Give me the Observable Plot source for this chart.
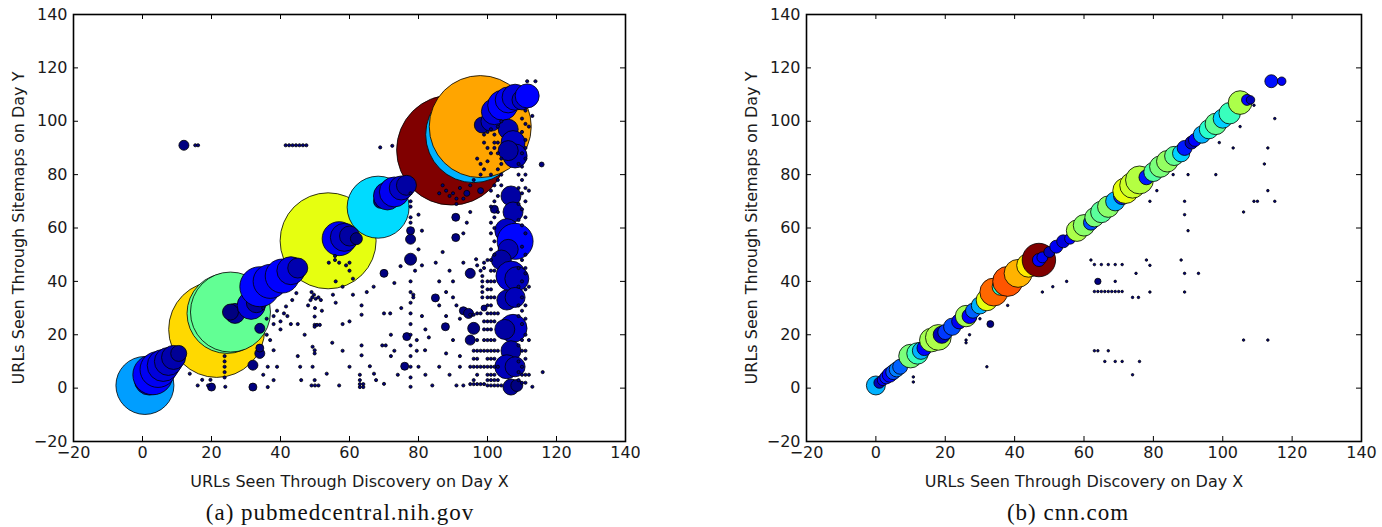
<!DOCTYPE html>
<html><head><meta charset="utf-8">
<script src="https://cdn.jsdelivr.net/npm/d3@7"></script>
<script src="https://cdn.jsdelivr.net/npm/@observablehq/plot@0.6"></script>
<style>
body{margin:0;background:#fff;}
#wrap{position:relative;width:1382px;height:527px;overflow:hidden;}
.panel{position:absolute;top:0;}
.cap{position:absolute;top:500px;font-family:"Liberation Serif",serif;font-size:23px;color:#111;white-space:nowrap;transform:translateX(-50%);letter-spacing:1px;}
</style></head>
<body><div id="wrap"></div>
<script>
// ---------- data ----------
const xTicks = [-20, 0, 20, 40, 60, 80, 100, 120, 140];
const yTicks = [-20, 0, 20, 40, 60, 80, 100, 120, 140];
const xLabel = "URLs Seen Through Discovery on Day X";
const yLabel = "URLs Seen Through Sitemaps on Day Y";
const captions = ["(a) pubmedcentral.nih.gov", "(b) cnn.com"];

// pubmedcentral: [x, y, count, colorValue] in drawing order
const pubmedBubbles = [
  [0.7, 1, 841, 0.28], [21.5, 22, 2304, 0.68], [24.5, 28, 1600, 0.47], [25.5, 28.5, 1600, 0.47],
  [53.8, 55.2, 2304, 0.63], [68.3, 67.8, 961, 0.34], [89.6, 89.2, 3025, 1.0],
  [96, 95, 2304, 0.3], [97.9, 98, 2601, 0.735]
];
const pubmedMedium = [
  [2, 3, 225, 0.05], [3, 5, 400, 0.12], [4.5, 7, 324, 0.1], [6, 8.5, 256, 0.08], [7.5, 10, 196, 0.06],
  [9, 11.5, 144, 0.04], [10.5, 13, 64, 0.02], [26.8, 28, 100, 0.02], [25.5, 28.5, 64, 0.0],
  [31.5, 31, 196, 0.08], [33, 32, 100, 0.02], [34, 38, 400, 0.13], [37, 40, 289, 0.1], [40.5, 42, 289, 0.12],
  [43, 44, 196, 0.08], [45, 45, 100, 0.04], [57, 56, 289, 0.1], [58.5, 56.5, 196, 0.06], [60, 57, 100, 0.03],
  [62, 56, 36, 0.0], [69, 70, 49, 0.0], [71, 72, 196, 0.07], [73, 73.5, 225, 0.1], [75, 75, 144, 0.06],
  [76.5, 76, 100, 0.03], [98.5, 98.6, 64, 0.02], [101, 100, 100, 0.05], [102, 103.6, 169, 0.08],
  [104.4, 106, 225, 0.12], [106, 108, 169, 0.1], [108, 109, 169, 0.08], [110, 108, 100, 0.06],
  [111.5, 109.5, 144, 0.12], [106, 97, 100, 0.04], [107.4, 92, 144, 0.06], [108, 87, 144, 0.05],
  [106, 89, 100, 0.03], [106.8, 72, 100, 0.03], [107.4, 66, 100, 0.04], [105.6, 59, 144, 0.06],
  [108, 55, 324, 0.13], [106, 52, 100, 0.05], [104, 48, 100, 0.03], [106.8, 42, 225, 0.07],
  [108.5, 41, 144, 0.05], [105.6, 33, 100, 0.04], [108, 34, 100, 0.05], [107.4, 22.4, 196, 0.06],
  [105, 22, 100, 0.03], [106.8, 14, 100, 0.03], [105.6, 8, 144, 0.05], [108, 8, 100, 0.04],
  [106.8, 0.4, 64, 0.02], [108.5, 1, 36, 0.0],
  [12, 91, 25, 0], [32, 0.4, 16, 0], [20, 0.4, 16, 0], [32, 8.6, 25, 0], [34, 13, 25, 0], [34, 22.4, 25, 0],
  [34, 15, 16, 0], [77.7, 48.3, 36, 0], [77.7, 55.8, 25, 0], [77.7, 59, 16, 0], [70, 43, 16, 0],
  [76.6, 19.3, 16, 0], [76, 8.2, 16, 0], [87.8, 23, 16, 0], [90.8, 56.4, 16, 0], [90.8, 64, 16, 0],
  [95, 43, 25, 0], [95, 18, 25, 0], [96, 22.4, 36, 0], [84.9, 33.8, 16, 0], [93, 29, 16, 0],
  [94.5, 28, 25, 0], [115.7, 83.8, 6, 0], [99, 30, 9, 0], [102, 67, 16, 0], [98, 74, 9, 0], [94, 73, 9, 0]
];
const pubmedDots = [
  [15.3,91],[16.1,91],[41.5,91],[42.5,91],[43.5,91],[44.5,91],[45.5,91],[46.5,91],[47.5,91],[68.9,90.2],[72.4,90.8],[111.5,115],[113.9,115],
  [13.7,5.4],[17.3,3.1],[19.7,3.1],[16,1],[19,1],[24,0.5],[23.8,6],[23.8,8],[23.8,10],[23.8,12],[23.8,4],[35,5],[36.3,8],[38,14.2],[38,3],[36.3,0.4],[39,8],[37,18],[36,20],[38,24],[40,22],[40,25],[41,28],[39,29],[41.6,30.6],[43.4,33],[44.6,35.6],[42,27],[38,27],[36,26],[35,30],[43,24],[45,24],
  [48.7,33],[49.2,34],[49.7,35],[50.2,33.5],[51,34],[51.7,33],[49,36],[48,31],[50,30],[49.9,26.8],[49.9,23.7],[49.9,23],[50.6,23.7],[51.4,23.7],[49.3,15.5],[49.9,14.2],[49.9,13],[45.7,8],[49.3,8],[49.9,3],[53.4,5.4],[47,20],[45,12],[46,3],[49,1],[50,1],[51,1],[55.2,35],[52,29],[55.8,48],[55.8,49.5],[54,47],[57,47],[59,46],[60,47],[60,44],[56,40],[58,38],[61,41],[63.5,31],[63.5,27.5],[63.5,16],[63.5,12.3],[63,5],[63,3],[63,1.5],[64,1.5],[63,0.4],[64,0.4],[65.9,8.2],[67.1,5.4],[67.7,3],[60,8],[57,1],[58,14],[60,25],[58,24],[55,17],[56,32],[61,35],[65,36],[67,38],
  [70,28],[71.8,28],[69.5,16],[70.5,16],[70,1.6],[73,39.4],[74.8,45.7],[72,20],[73,14],[74,5],[72,12],[75,30],[77.7,0.5],[77.7,4],[77.7,8],[77.7,12],[77.7,16],[77.7,20],[77.7,24],[77.7,28],[77.7,32],[77.7,36],[77.7,40],[77.7,62],[77.7,64],[77.7,68],[77.7,70],[77.7,73],[78.5,34],[78.5,35],[79.5,18],[79.5,14],[79,44],[81,46],[80,52],[81,59],[80,65],[81,27],[82,22],[83,19],[81.9,14.2],[80,8],[84,1],[82,5],
  [86,31],[88,27],[85,47],[87,51],[89,44],[90,40],[86,40],[88,36],[91,31],[92,26],[90,18],[88,13],[86,8],[89,5],[91,1],[93,1],[92,8],[92,12],[90,34],[93,47],[93,58],[94,62],[95,66],[91,69],[93,71],[89,72],[96.7,48.3],[97,46],[98,44],[95,27.5],[96,27.5],[97,28],[98,28],[98.5,34],[98.5,36],[98.5,38],[98.5,40],[98.5,42],[99,45],[99,47],[97,5],[96,3],[95,1.5],[96,1.5],[97,1.5],[98,1.5],[99,1.5],[95,8],[96,8],[97,8],[98,8],[99,8],[96,11],[97,11],[98,14],[99,14],[97,14],[99,18],[99,22],[99,25],[96,14],[97,18],
  [100,1],[101,1],[102,1],[103,1],[104,1],[100,3],[101,3],[102,3],[103,3],[100,5],[101,5],[102,5],[100,8],[101,8],[102,8],[103,8],[100,11],[101,11],[102,11],[100,14],[101,14],[102,14],[103,14],[100,18],[101,18],[102,18],[100,22],[101,22],[100,25],[101,25],[102,25],[100,28],[101,28],[102,28],[103,28],[100,31],[101,31],[100,34],[101,34],[102,34],[100,37],[101,37],[100,40],[101,40],[102,40],[101,44],[102,44],[100,48],[101,48],[102,50],[101,52],[102,55],[101,58],[102,60],[101,62],[102,64],[103,66],[101,68],[102,70],[103,72],[101,74],[102,76],[103,78],[104,76],[104,80],[103,82],[104,84],[104,86],[103,88],[102,90],[103,92],[102,95],[101,97],[103,98],[104,100],
  [110,2],[111,2],[110,5],[111,5],[110,8],[111,11],[110,14],[111,14],[110,18],[111,20],[110,24],[111,26],[110,29],[111,31],[110,34],[111,37],[110,40],[111,43],[111,45],[110,48],[111,50],[110,53],[111,58],[110,61],[111,64],[110,67],[111,70],[110,73],[111,75],[110,78],[111,80],[110,83],[111,86],[110,88],[111,90],[111,93],[110,96],[111,99],[110,101],[111,104],[113,0.5],[112,5],[116,6],[109,3],[109,6],[109,10],[109,16],[109,27],[109,31],[109,38],[109,45],[109,63],[109,69],[109,75],[109,80],[109,84],[112,18],[112,38],[112,74],[113,102],[112,98],
  [99,92],[100,90],[101,88],[99,95],[100,96],[102,92],[97,86],[98,84],[99,82],[100,85],[101,80],[98,80],[96,78],[95,76],[92,75],[90,73],[88,74],[87,76],[86,73],[91,71]
];

// cnn.com: [x, y, count, colorValue]
const cnnChain = [
  [0,1,90,0.3],[1,2,30,0.05],[2,3,30,0.1],[3,4,42,0.15],[4,5,56,0.12],[5,6,56,0.2],[6,7,56,0.25],[7,8,56,0.22],
  [10,12,140,0.5],[12,13,115,0.42],[13,14,74,0.3],[14,15,56,0.12],[16,18,140,0.55],[18,19,165,0.56],[19,20,74,0.05],
  [20,21,56,0.18],[22,23,74,0.2],[24,25,56,0.1],[26,27,115,0.55],[27,27,56,0.12],[28,29,56,0.22],[30,31,74,0.3],
  [32,33,115,0.63],[34,36,195,0.8],[36,38,74,0.4],[38,40,225,0.82],[41,43,195,0.72],[44,46,140,0.66],[47,48,280,1.0],
  [47,48,42,0.12],[48,49,30,0.1],[50,51,30,0.05],[52,53,42,0.1],[54,55,42,0.08],[56,56,30,0.12],[58,59,115,0.56],
  [60,61,115,0.52],[62,62,56,0.2],[63,64,92,0.5],[65,66,115,0.46],[67,68,115,0.52],[69,70,92,0.3],[71,72,74,0.15],
  [72,74,165,0.63],[74,76,165,0.6],[76,78,195,0.57],[78,79,56,0.15],[80,81,92,0.45],[82,83,115,0.5],[84,85,115,0.53],
  [86,87,92,0.47],[88,88,74,0.33],[89,90,56,0.15],[91,92,42,0.05],[92,93,42,0.12],[94,95,74,0.3],[96,97,92,0.4],
  [98,99,115,0.47],[100,101,92,0.33],[102,103,115,0.42],[105,107,140,0.56],[107,108,30,0.12],[108,108,18,0.05],
  [114,115,42,0.14],[117,115,18,0.1]
];
const cnnDots = [
  [10.8,4.2],[10.8,2.3],[26,18],[26,17],[27,20],[32,8],[30,26],[38,31],[48,36],[51,38],[55,40],[62,48],
  [63,46.3],[65,46.3],[67,46.3],[69,46.3],[71,46.3],[69,40],
  [63,36.2],[64,36.2],[65,36.2],[66,36.2],[67,36.2],[68,36.2],[69,36.2],[70,36.2],[71,36.2],
  [74,34],[75.7,34],[75,43],[78,48],[79,46],[79,36],[79,70],[81,74],[85.7,80],[90,80],[98,80],
  [88,48],[89,43],[93,43],[89,70],[89,65],[90,59],[89,36],[99,92],[103,90],[105,98],[109,106],
  [115,101],[113,90],[112,84],[113,74],[109,70],[110,70],[115,70],[106,66],
  [63,14],[64,14],[67,14],[66,10],[69,10],[71,10],[76,10],[74,5],[106,18],[113,18]
];
const cnnMedium = [[33,24,12,0],[64,40,10,0]];

// ---------- helpers ----------
const jetStops = [0,0.11,0.125,0.34,0.35,0.375,0.64,0.65,0.66,0.89,0.91,1];
const jetColors = ["#000080","#0000ff","#0000ff","#00dbff","#00e6f7","#14ffe2","#eeff08","#f7f600","#ffec00","#ff1300","#e80000","#800000"];
const jetScale = d3.scaleLinear().domain(jetStops).range(jetColors).interpolate(d3.interpolateRgb);
const jet = t => jetScale(t);

const toRow = ([x, y, n, c]) => ({x, y, n, c});

function panel(points, {width, ml, mr}) {
  const mt = 14, mb = 86, H = 527;
  const fw = width - ml - mr, fh = H - mt - mb;
  const tl = 5;
  return Plot.plot({
    width, height: H, marginLeft: ml, marginRight: mr, marginTop: mt, marginBottom: mb,
    style: {fontFamily: "DejaVu Sans, sans-serif", fontSize: "13.5px", color: "#1a1a1a", background: "white"},
    x: {domain: [-20, 140]},
    y: {domain: [-20, 140]},
    r: {type: "sqrt", domain: [0, 3025], range: [0, 55]},
    color: {type: "linear", domain: [0, 1], interpolate: jet},
    marks: [
      Plot.dot(points, {x: "x", y: "y", r: "n", fill: "c", stroke: "black", strokeWidth: 0.8, sort: null, clip: true}),
      Plot.tickX(xTicks, {x: d => d, insetTop: fh - tl, stroke: "black", strokeWidth: 1}),
      Plot.tickX(xTicks, {x: d => d, insetBottom: fh - tl, stroke: "black", strokeWidth: 1}),
      Plot.tickY(yTicks, {y: d => d, insetRight: fw - tl, stroke: "black", strokeWidth: 1}),
      Plot.tickY(yTicks, {y: d => d, insetLeft: fw - tl, stroke: "black", strokeWidth: 1}),
      Plot.frame({stroke: "black", strokeWidth: 1.6}),
      Plot.axisX(xTicks, {anchor: "bottom", tickSize: 0, tickPadding: 5, label: xLabel, labelAnchor: "center", labelArrow: "none", labelOffset: 45, fontSize: 16}),
      Plot.axisY(yTicks, {anchor: "left", tickSize: 0, tickPadding: 6, label: yLabel, labelAnchor: "center", labelArrow: "none", labelOffset: 61, fontSize: 16})
    ]
  });
}

const leftPoints = [
  ...pubmedBubbles.map(toRow),
  ...pubmedMedium.map(toRow),
  ...pubmedDots.map(([x, y]) => ({x, y, n: 2.5, c: 0}))
];
const rightPoints = [
  ...cnnChain.map(toRow),
  ...cnnMedium.map(toRow),
  ...cnnDots.map(([x, y]) => ({x, y, n: 1.6, c: 0}))
];

const wrap = document.getElementById("wrap");
const p1 = panel(leftPoints, {width: 640, ml: 73, mr: 15});
p1.classList.add("panel"); p1.style.left = "0px";
const p2 = panel(rightPoints, {width: 642, ml: 66, mr: 21});
p2.classList.add("panel"); p2.style.left = "740px";
wrap.appendChild(p1); wrap.appendChild(p2);

[[captions[0], 340], [captions[1], 1068]].forEach(([t, cx]) => {
  const d = document.createElement("div");
  d.className = "cap"; d.textContent = t; d.style.left = cx + "px";
  wrap.appendChild(d);
});
</script></body></html>
